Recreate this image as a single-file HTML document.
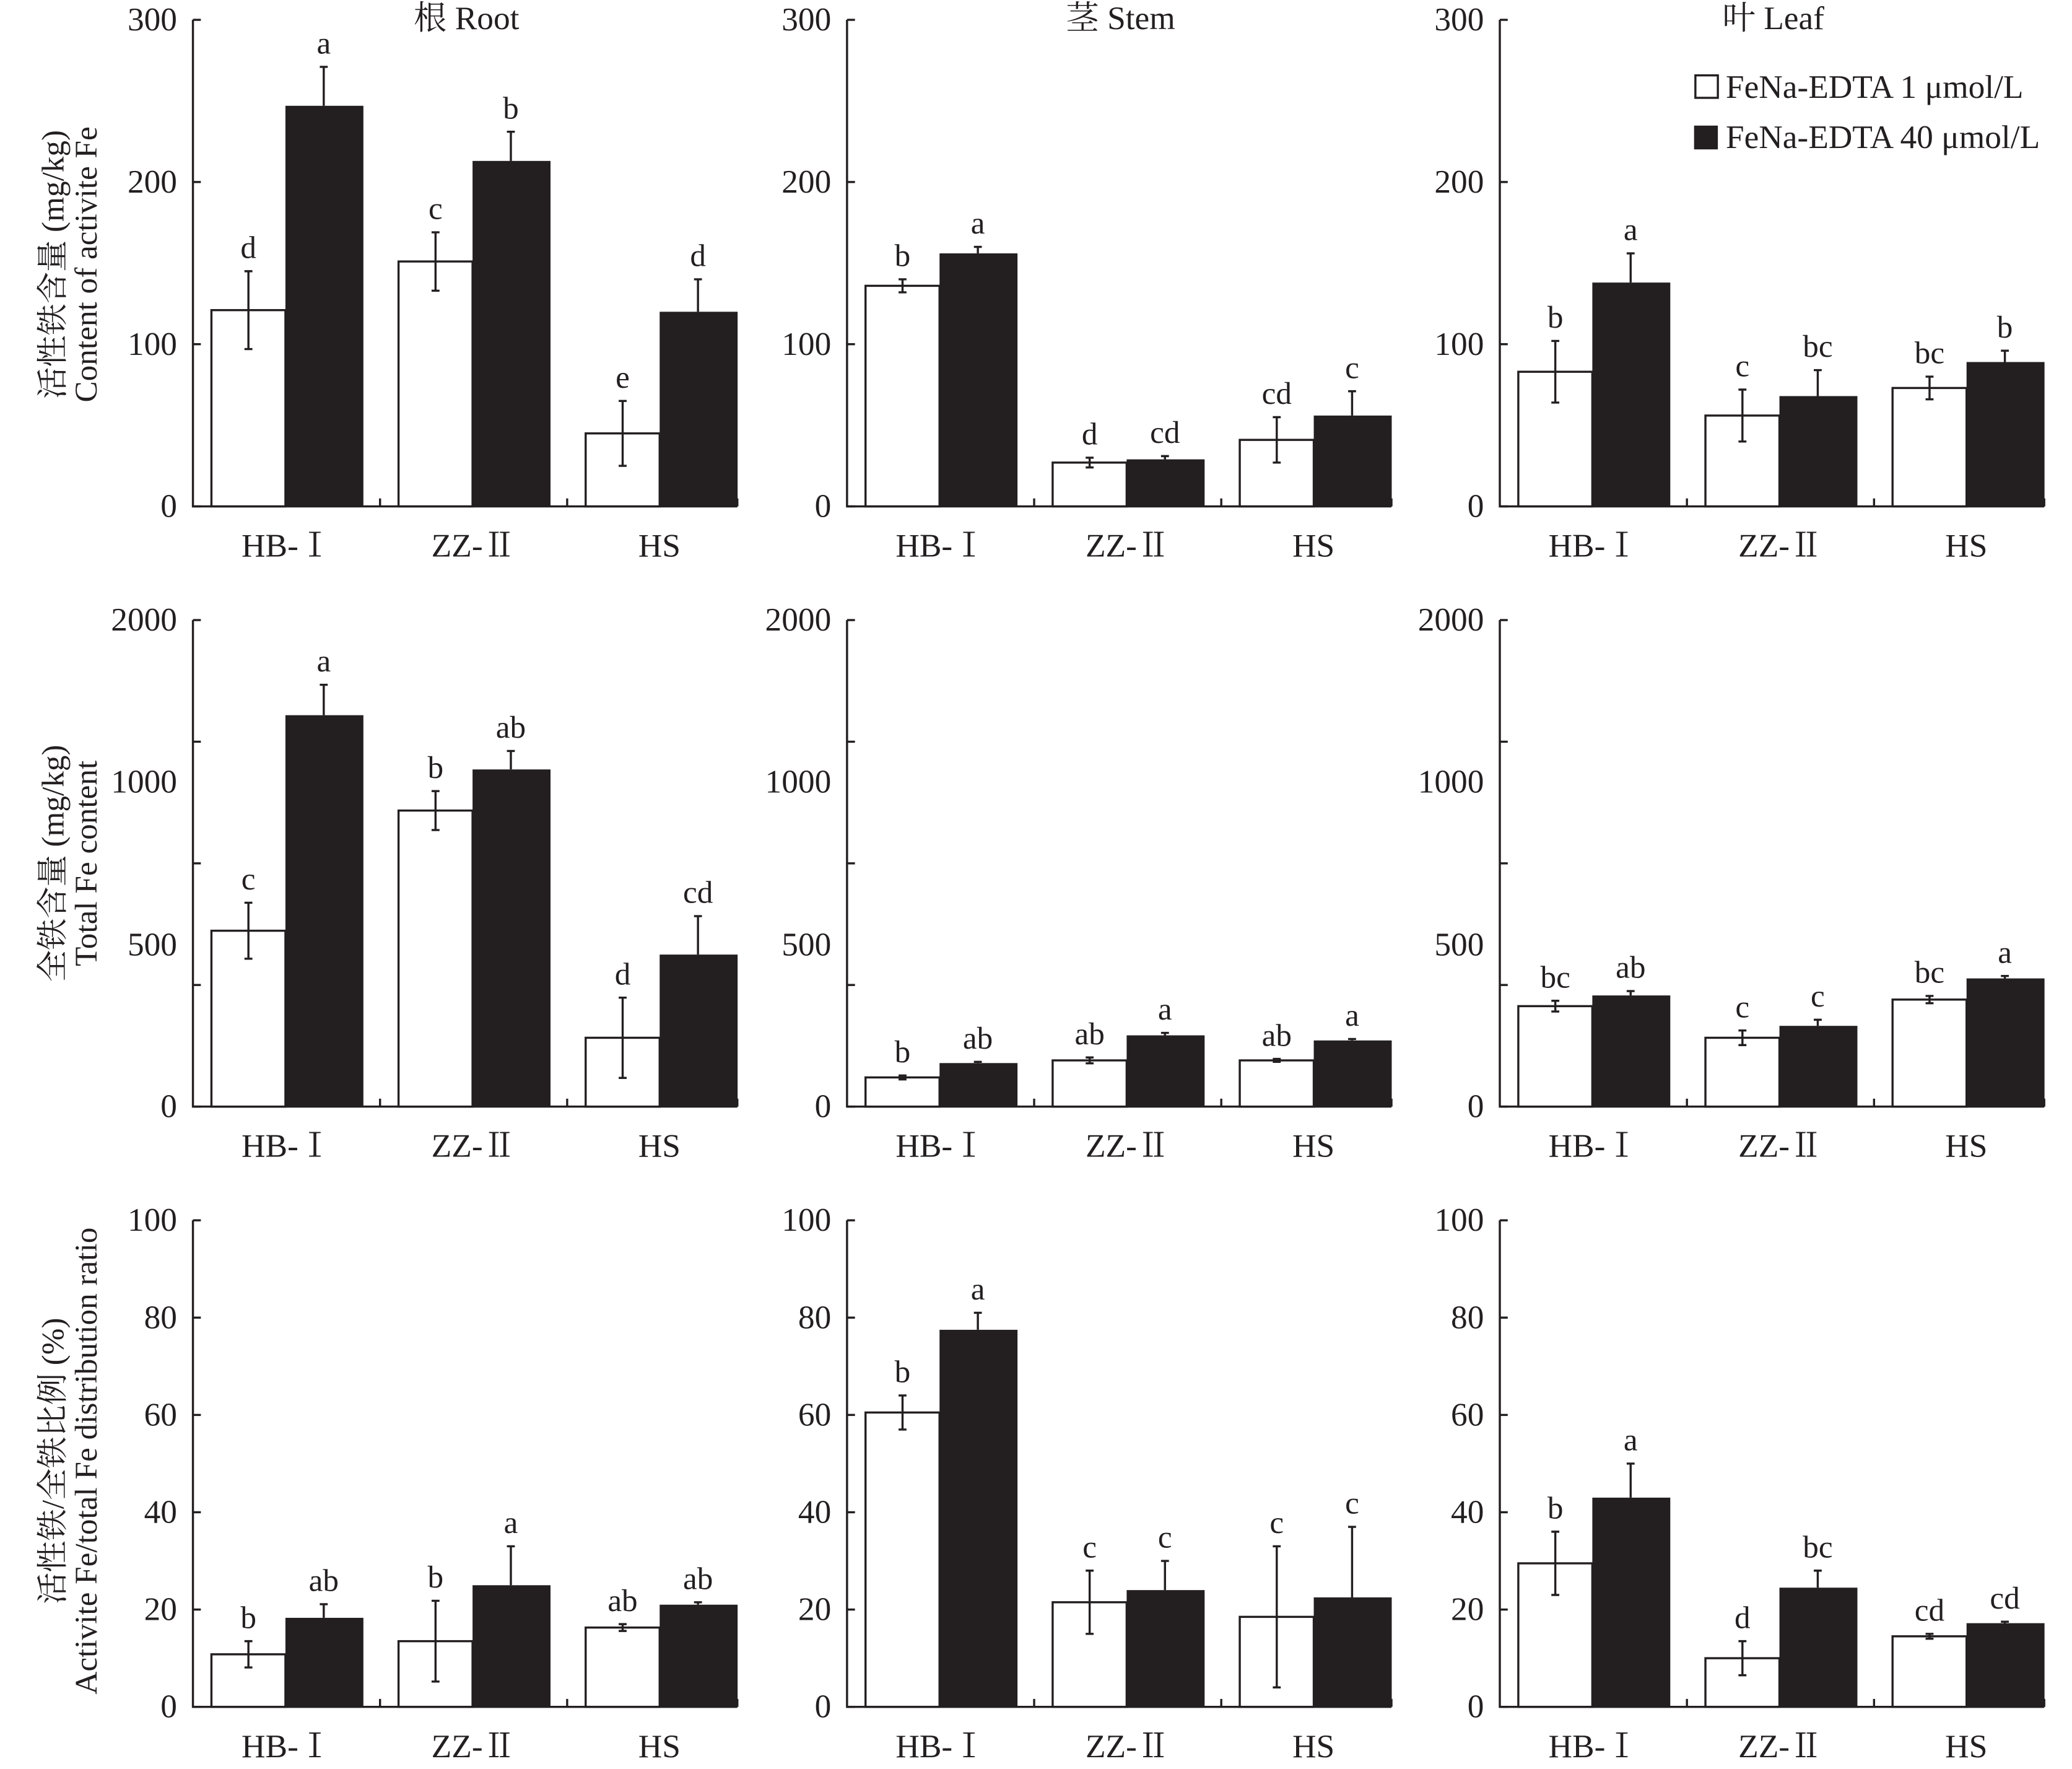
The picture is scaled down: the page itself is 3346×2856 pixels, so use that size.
<!DOCTYPE html>
<html><head><meta charset="utf-8"><style>
html,body{margin:0;padding:0;background:#fff;}
svg{display:block;}
text{font-family:"Liberation Serif","Noto Serif CJK SC",serif;fill:#231f20;}
</style></head><body>
<svg id="chart" width="3346" height="2856" viewBox="0 0 1568 1338" preserveAspectRatio="none" xmlns="http://www.w3.org/2000/svg"></svg>
<script>
const categories = ["HB-Ⅰ","ZZ-Ⅱ","HS"];
const organs = ["根 Root","茎 Stem","叶 Leaf"];
// Row 1: active Fe (mg/kg)
const r1Low  = [[121,151,45],[136,27,41],[83,56,73]];
const r1High = [[247,213,120],[156,29,56],[138,68,89]];
const r1LowErr  = [[24,18,20],[4,3,14],[19,16,7]];
const r1HighErr = [[24,18,20],[4,2,15],[18,16,7]];
const r1LowLet  = [["d","c","e"],["b","d","cd"],["b","c","bc"]];
const r1HighLet = [["a","b","d"],["a","cd","c"],["a","bc","b"]];
// Row 2: total Fe (mg/kg)
const r2Low  = [[723,1217,283],[120,190,190],[413,283,440]];
const r2High = [[1609,1386,625],[179,293,272],[457,332,527]];
const r2LowErr  = [[115,80,165],[8,12,6],[22,30,15]];
const r2HighErr = [[125,76,158],[5,10,6],[18,25,10]];
const r2LowLet  = [["c","b","d"],["b","ab","ab"],["bc","c","bc"]];
const r2HighLet = [["a","ab","cd"],["ab","a","a"],["ab","c","a"]];
// Row 3: ratio (%)
const r3Low  = [[10.8,13.5,16.3],[60.5,21.5,18.5],[29.5,10,14.5]];
const r3High = [[18.3,25,21],[77.5,24,22.5],[43,24.5,17.2]];
const r3LowErr  = [[2.7,8.3,0.7],[3.5,6.5,14.5],[6.5,3.5,0.5]];
const r3HighErr = [[2.8,8,0.5],[3.5,6,14.5],[7,3.5,0.3]];
const r3LowLet  = [["b","b","ab"],["b","c","c"],["b","d","cd"]];
const r3HighLet = [["ab","a","ab"],["a","c","c"],["a","bc","cd"]];
const r1Ticks = [0,100,200,300];
const r2Ticks = [0,500,1000,1500,2000];
const r2TickLabels = [["0",0],["500",665],["1000",1335],["2000",2000]];
const r3Ticks = [0,20,40,60,80,100];

const svg = document.getElementById('chart');
const NS = "http://www.w3.org/2000/svg";
function mk(tag, attrs, parent){const e=document.createElementNS(NS,tag);for(const k in attrs)e.setAttribute(k,attrs[k]);(parent||svg).appendChild(e);return e;}
function txt(s,x,y,size,anchor,parent){const t=mk('text',{x:x,y:y,'font-size':size,'text-anchor':anchor||'middle'},parent);t.textContent=s;return t;}

const colX=[146,641,1135], rowZero=[383,837,1291], plotH=368, axisLen=412, band=141.6;
const rows=[
 {max:300,ticks:r1Ticks,labels:r1Ticks.map(v=>[String(v),v]),low:r1Low,high:r1High,le:r1LowErr,he:r1HighErr,ll:r1LowLet,hl:r1HighLet},
 {max:2000,ticks:r2Ticks,labels:r2TickLabels,low:r2Low,high:r2High,le:r2LowErr,he:r2HighErr,ll:r2LowLet,hl:r2HighLet},
 {max:100,ticks:r3Ticks,labels:r3Ticks.map(v=>[String(v),v]),low:r3Low,high:r3High,le:r3LowErr,he:r3HighErr,ll:r3LowLet,hl:r3HighLet}
];
rows.forEach((row,ri)=>{
 colX.forEach((x0,ci)=>{
  const y0=rowZero[ri];
  const g=mk('g',{});
  
  
  const yS=v=>y0-v/row.max*plotH;
  const xS=i=>x0+i*band;
  const ax=mk('path',{d:`M${x0} ${y0-plotH}V${y0}H${x0+axisLen}`,stroke:'#231f20','stroke-width':1.6,fill:'none'},g);
  
  
  row.ticks.forEach(v=>{mk('line',{x1:x0,x2:x0+6,y1:yS(v),y2:yS(v),stroke:'#231f20','stroke-width':1.6},g);});
  row.labels.forEach(l=>{const t=txt(l[0],x0-12,yS(l[1])+8,25,'end',g);
   
   });
  for(let i=1;i<=3;i++){const xx=i<3?xS(i):x0+axisLen;mk('line',{x1:xx,x2:xx,y1:y0,y2:y0-6,stroke:'#231f20','stroke-width':1.6},g);}
  categories.forEach((c,i)=>{
   const t=txt(c,xS(i)+band/2+(i==2?-1:0),y0+38,25,'middle',g);
   
   
   const wx=xS(i)+14, bx=wx+56;
   const lv=row.low[ci][i], hv=row.high[ci][i];
   const wb=mk('rect',{x:wx,y:yS(lv),width:56,height:y0-yS(lv),fill:'#fff',stroke:'#231f20','stroke-width':1.6},g);
   
   
   const bb=mk('rect',{x:bx,y:yS(hv),width:59,height:y0-yS(hv),fill:'#231f20'},g);
   
   
   const le=row.le[ci][i], he=row.he[ci][i];
   const cx1=wx+28, cx2=bx+29;
   mk('path',{d:`M${cx1} ${yS(lv+le)}V${yS(Math.max(0,lv-le))}M${cx1-3} ${yS(lv+le)}h6M${cx1-3} ${yS(Math.max(0,lv-le))}h6`,stroke:'#231f20','stroke-width':1.6,fill:'none'},g);
   mk('path',{d:`M${cx2} ${yS(hv+he)}V${yS(hv)}M${cx2-3} ${yS(hv+he)}h6`,stroke:'#231f20','stroke-width':1.6,fill:'none'},g);
   const t1=txt(row.ll[ci][i],cx1,yS(lv+le)-10,24,'middle',g);
   
   
   const t2=txt(row.hl[ci][i],cx2,yS(hv+he)-10,24,'middle',g);
   
   
  });
  if(ri===0){const t=txt(organs[ci],x0+207,22,25,'middle',g);
   
   }
 });
});
// y titles
const yTitles=[["活性铁含量 (mg/kg)","Content of activite Fe",200],["全铁含量 (mg/kg)","Total Fe content",653],["活性铁/全铁比例 (%)","Activite Fe/total Fe distribution ratio",1105]];
yTitles.forEach(t=>{
 const a=txt(t[0],0,0,24,'middle');a.setAttribute('transform',`translate(48 ${t[2]}) rotate(-90)`);
 
 
 const b=txt(t[1],0,0,24,'middle');b.setAttribute('transform',`translate(73 ${t[2]}) rotate(-90)`);
 
 
});
// legend
const lg=mk('g',{});


mk('rect',{x:1283,y:57,width:17,height:17,fill:'#fff',stroke:'#231f20','stroke-width':1.6},lg);
mk('rect',{x:1282,y:95,width:18,height:18,fill:'#231f20'},lg);
const e1=txt("FeNa-EDTA 1 μmol/L",1306,74,25,'start',lg);


const e2=txt("FeNa-EDTA 40 μmol/L",1306,112,25,'start',lg);


</script>
</body></html>
